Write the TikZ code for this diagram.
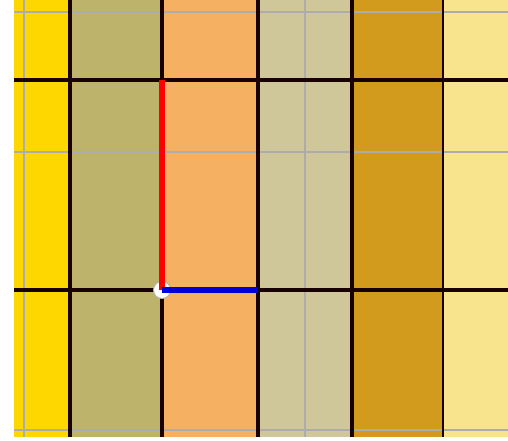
\documentclass[tikz,border=0pt]{standalone}
\begin{document}
\begin{tikzpicture}[x=1pt,y=-1pt,
  majorline/.style={black!90!red,line width=3.4pt},
  minorline/.style={gray!65,line width=1.5pt},
  redline/.style={red,line width=6pt},
  blueline/.style={blue!85!black,line width=6pt}]
\definecolor{cA}{HTML}{FFD700}
\definecolor{cB}{HTML}{BDB36B}
\definecolor{cC}{HTML}{F5B062}
\definecolor{cD}{HTML}{CFC79A}
\definecolor{cE}{HTML}{D39B1E}
\definecolor{cF}{HTML}{F7E48C}
\useasboundingbox (0,0) rectangle (508,441);
\fill[white] (0,0) rectangle (508,441);
% columns
\fill[cA] (14,0) rectangle (70,437);
\fill[cB] (70,0) rectangle (162,437);
\fill[cC] (162,0) rectangle (258,437);
\fill[cD] (258,0) rectangle (352,437);
\fill[cE] (352,0) rectangle (443,437);
\fill[cF] (443,0) rectangle (508,437);
% minor grid
\draw[minorline] (14,12) -- (508,12);
\draw[minorline] (14,152) -- (508,152);
\draw[minorline] (14,430) -- (508,430);
\draw[minorline] (24,0) -- (24,437);
\draw[minorline] (305,0) -- (305,437);
% major grid
\foreach \x in {70,162,258,352} \draw[majorline] (\x,0) -- (\x,437);
\draw[majorline,line width=2.6pt] (443,0) -- (443,437);
\draw[majorline] (14,80) -- (508,80);
\draw[majorline] (14,290) -- (508,290);
% axes
\node[circle,fill=white,draw=gray!60,line width=0.8pt,inner sep=0pt,minimum size=17pt] (origin) at (162,290) {};
\coordinate (yend) at (162,80);
\coordinate (xend) at (258,290);
\draw[redline] (origin.center) -- (yend);
\draw[blueline] (origin.center) -- (xend);
\end{tikzpicture}
\end{document}
